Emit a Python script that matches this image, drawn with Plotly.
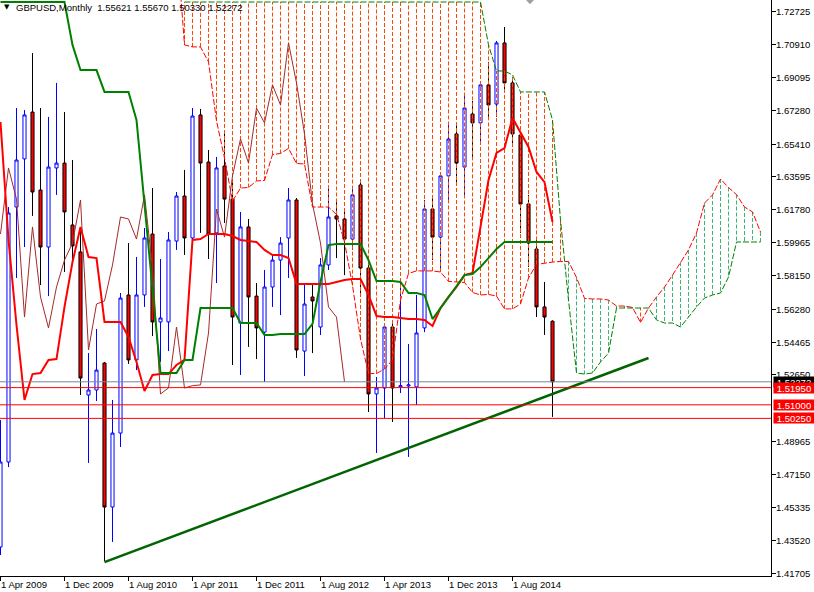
import plotly.graph_objects as go

FONT = "Liberation Sans"

# ---------------- data (month index 0 = Apr 2009) ----------------
opens = [1.4314, 1.4784, 1.6193, 1.6459, 1.6718, 1.6287, 1.5972, 1.6409, 1.6436, 1.6094,
         1.5945, 1.5154, 1.5182, 1.5331, 1.4535, 1.4944, 1.5707, 1.5348, 1.5707, 1.6044,
         1.5558, 1.5558, 1.6005, 1.6254, 1.6022, 1.6702, 1.6442, 1.6050, 1.6420, 1.6237,
         1.5552, 1.6083, 1.5701, 1.5502, 1.5751, 1.5900, 1.6022, 1.6232, 1.5397, 1.5696,
         1.5530, 1.5873, 1.6144, 1.6127, 1.6016, 1.6315, 1.5856, 1.5160, 1.5193, 1.5530,
         1.5199, 1.5204, 1.5199, 1.5525, 1.6182, 1.6027, 1.6365, 1.6597, 1.6414, 1.6707,
         1.6658, 1.6868, 1.6762, 1.7100, 1.6879, 1.6591, 1.6210, 1.5961, 1.5641, 1.55621]
highs = [1.5016, 1.6193, 1.6740, 1.6729, 1.7044, 1.6740, 1.6691, 1.6879, 1.6718, 1.6453,
         1.6066, 1.5386, 1.5519, 1.5337, 1.5127, 1.5718, 1.5994, 1.5917, 1.6077, 1.6298,
         1.5906, 1.6055, 1.6276, 1.6398, 1.6740, 1.6735, 1.6508, 1.6470, 1.6613, 1.6342,
         1.6166, 1.6127, 1.5773, 1.5845, 1.5928, 1.6027, 1.6298, 1.6243, 1.5762, 1.5762,
         1.5911, 1.6309, 1.6221, 1.6166, 1.6298, 1.6342, 1.5900, 1.5254, 1.5552, 1.5558,
         1.5773, 1.5436, 1.5707, 1.6232, 1.6249, 1.6381, 1.6646, 1.6652, 1.6812, 1.6779,
         1.6879, 1.6995, 1.7111, 1.7188, 1.6912, 1.6608, 1.6260, 1.6022, 1.5779, 1.55670]
lows = [1.4270, 1.4756, 1.5801, 1.5972, 1.6144, 1.5762, 1.5701, 1.6260, 1.5834, 1.5884,
        1.5154, 1.4779, 1.5121, 1.4237, 1.4342, 1.4867, 1.5326, 1.5292, 1.5641, 1.5480,
        1.5337, 1.5397, 1.5956, 1.5928, 1.6000, 1.6050, 1.5906, 1.5773, 1.6105, 1.5320,
        1.5265, 1.5420, 1.5353, 1.5226, 1.5641, 1.5596, 1.5801, 1.5359, 1.5259, 1.5386,
        1.5486, 1.5845, 1.5911, 1.5817, 1.5956, 1.5696, 1.5060, 1.4834, 1.5027, 1.5005,
        1.5165, 1.4812, 1.5099, 1.5502, 1.5900, 1.5851, 1.6215, 1.6309, 1.6243, 1.6464,
        1.6547, 1.6691, 1.6691, 1.6840, 1.6525, 1.6050, 1.5862, 1.5585, 1.5486, 1.50330]
closes = [1.4784, 1.6160, 1.6453, 1.6702, 1.6276, 1.5972, 1.6414, 1.6436, 1.6166, 1.5978,
          1.5248, 1.5182, 1.5292, 1.4535, 1.4944, 1.5690, 1.5348, 1.5707, 1.6022, 1.5558,
          1.5580, 1.6011, 1.6254, 1.6022, 1.6696, 1.6436, 1.6044, 1.6409, 1.6237, 1.5585,
          1.6083, 1.5696, 1.5525, 1.5751, 1.5900, 1.5994, 1.6232, 1.5403, 1.5657, 1.5674,
          1.5873, 1.6138, 1.6127, 1.6016, 1.6260, 1.5856, 1.5160, 1.5193, 1.5530, 1.5193,
          1.5206, 1.5210, 1.5497, 1.6182, 1.6027, 1.6365, 1.6569, 1.6436, 1.6740, 1.6658,
          1.6868, 1.6757, 1.7100, 1.6879, 1.6597, 1.6210, 1.5994, 1.5641, 1.5585, 1.52272]

tenkan = [1.6663, 1.6011, 1.5541, 1.5127, 1.5270, 1.5276, 1.5348, 1.5353, 1.5641, 1.5889,
          1.6083, 1.5917, 1.5911, 1.5558, 1.5558, 1.5558, 1.5475, 1.5337, 1.5176, 1.5265,
          1.5270, 1.5270, 1.5320, 1.5348, 1.6011, 1.6016, 1.6044, 1.6044, 1.6044, 1.6033,
          1.6011, 1.6005, 1.6000, 1.5956, 1.5928, 1.5928, 1.5911, 1.5768, 1.5768, 1.5768,
          1.5768, 1.5768, 1.5779, 1.5790, 1.5795, 1.5795, 1.5707, 1.5591, 1.5585, 1.5585,
          1.5580, 1.5574, 1.5574, 1.5569, 1.5536, 1.5635, 1.5696, 1.5751, 1.5817, 1.5829,
          1.6083, 1.6342, 1.6492, 1.6519, 1.6685, 1.6602, 1.6525, 1.6387, 1.6331, 1.6110]
kijun = [1.7326, 1.7326, 1.7326, 1.7326, 1.7326, 1.7326, 1.7326, 1.7326, 1.7326, 1.7089,
         1.6950, 1.6950, 1.6950, 1.6829, 1.6829, 1.6829, 1.6829, 1.6674, 1.6204, 1.5724,
         1.5276, 1.5276, 1.5276, 1.5348, 1.5348, 1.5635, 1.5635, 1.5635, 1.5635, 1.5635,
         1.5552, 1.5552, 1.5552, 1.5486, 1.5486, 1.5491, 1.5491, 1.5491, 1.5491, 1.5547,
         1.5779, 1.5983, 1.5989, 1.5989, 1.5989, 1.5989, 1.5900, 1.5784, 1.5784, 1.5784,
         1.5779, 1.5718, 1.5718, 1.5707, 1.5574, 1.5635, 1.5696, 1.5751, 1.5817, 1.5823,
         1.5862, 1.5911, 1.5961, 1.6000, 1.6000, 1.6000, 1.6000, 1.6000, 1.6000, 1.6000]

span_a_start = 22
span_a = [1.7669, 1.7089, 1.7078, 1.7078, 1.6995, 1.6669, 1.6464, 1.6226, 1.6298, 1.6301,
          1.6337, 1.6340, 1.6483, 1.6489, 1.6517, 1.6434, 1.6431, 1.6193, 1.6193, 1.6193,
          1.6152, 1.6000, 1.5759, 1.5464, 1.5273, 1.5273, 1.5298, 1.5348, 1.5679, 1.5826,
          1.5840, 1.5840, 1.5840, 1.5834, 1.5782, 1.5779, 1.5776, 1.5721, 1.5707, 1.5710,
          1.5701, 1.5630, 1.5630, 1.5657, 1.5801, 1.5876, 1.5884, 1.5889, 1.5892, 1.5892,
          1.5804, 1.5688, 1.5685, 1.5685, 1.5679, 1.5646, 1.5646, 1.5638, 1.5555, 1.5635,
          1.5696, 1.5751, 1.5817, 1.5889, 1.5956, 1.6050, 1.6215, 1.6260, 1.6348, 1.6301,
          1.6262, 1.6193, 1.6166, 1.6055]
span_b_start = 23
span_b = [1.7326, 1.7326, 1.7326, 1.7326, 1.7326, 1.7326, 1.7326, 1.7326, 1.7326, 1.7326,
          1.7326, 1.7326, 1.7326, 1.7326, 1.7326, 1.7326, 1.7326, 1.7326, 1.7326, 1.7326,
          1.7326, 1.7326, 1.7326, 1.7326, 1.7326, 1.7326, 1.7326, 1.7326, 1.7326, 1.7326,
          1.7326, 1.7326, 1.7326, 1.7326, 1.7326, 1.7326, 1.7326, 1.7326, 1.7089, 1.6945,
          1.6945, 1.6923, 1.6829, 1.6829, 1.6829, 1.6829, 1.6674, 1.6121, 1.5679, 1.5276,
          1.5270, 1.5276, 1.5337, 1.5386, 1.5635, 1.5635, 1.5635, 1.5635, 1.5635, 1.5569,
          1.5552, 1.5552, 1.5530, 1.5585, 1.5641, 1.5690, 1.5707, 1.5718, 1.5806, 1.6000,
          1.6000, 1.6000, 1.6000]
chikou_shift = 26

trend_x = [13, 81]
trend_y = [1.4231, 1.5359]

bid_price = 1.52272
level_prices = [1.51950, 1.51000, 1.50250]
level_labels = ["1.51950", "1.51000", "1.50250"]

ytick_vals = [1.72725, 1.70910, 1.69095, 1.67280, 1.65410, 1.63595, 1.61780, 1.59965, 1.58150,
              1.56280, 1.54465, 1.52650, 1.48965, 1.47150, 1.45335, 1.43520, 1.41705]
ytick_text = ["1.72725", "1.70910", "1.69095", "1.67280", "1.65410", "1.63595", "1.61780",
              "1.59965", "1.58150", "1.56280", "1.54465", "1.52650", "1.48965", "1.47150",
              "1.45335", "1.43520", "1.41705"]
xtick_idx = [0, 8, 16, 24, 32, 40, 48, 56, 64]
xtick_text = ["1 Apr 2009", "1 Dec 2009", "1 Aug 2010", "1 Apr 2011", "1 Dec 2011",
              "1 Aug 2012", "1 Apr 2013", "1 Dec 2013", "1 Aug 2014"]
title_text = "GBPUSD,Monthly\u00a0\u00a01.55621 1.55670 1.50330 1.52272"

# ---------------- figure ----------------
idx = list(range(len(closes)))
a_idx = list(range(span_a_start, span_a_start + len(span_a)))
b_idx = list(range(span_b_start, span_b_start + len(span_b)))

fig = go.Figure()

fig.add_trace(go.Candlestick(
    x=idx, open=opens, high=highs, low=lows, close=closes,
    increasing=dict(line=dict(color="#0000FF", width=1), fillcolor="#FFFFFF"),
    decreasing=dict(line=dict(color="#000000", width=1), fillcolor="#FF0000"),
    whiskerwidth=0, hoverinfo="skip", showlegend=False))

# kumo hatch
ox, oy, gx, gy = [], [], [], []
for k, i in enumerate(b_idx):
    a = span_a[i - span_a_start]
    b = span_b[k]
    if b >= a:
        ox += [i, i, None]; oy += [a, b, None]
    else:
        gx += [i, i, None]; gy += [a, b, None]
fig.add_trace(go.Scatter(x=ox, y=oy, mode="lines", hoverinfo="skip",
                         line=dict(color="#FF4500", width=1, dash="4px,2px")))
fig.add_trace(go.Scatter(x=gx, y=gy, mode="lines", hoverinfo="skip",
                         line=dict(color="#3CB371", width=1, dash="4px,2px")))
fig.add_trace(go.Scatter(x=a_idx, y=span_a, mode="lines", hoverinfo="skip",
                         line=dict(color="#FF0000", width=1, dash="6px,2px")))
fig.add_trace(go.Scatter(x=b_idx, y=span_b, mode="lines", hoverinfo="skip",
                         line=dict(color="#008000", width=1, dash="6px,2px")))
# chikou (closes plotted 26 bars back)
fig.add_trace(go.Scatter(x=idx[:len(idx) - chikou_shift], y=closes[chikou_shift:], mode="lines",
                         hoverinfo="skip", line=dict(color="#A52A2A", width=1)))
fig.add_trace(go.Scatter(x=idx, y=tenkan, mode="lines", hoverinfo="skip",
                         line=dict(color="#FF0000", width=2)))
fig.add_trace(go.Scatter(x=idx, y=kijun, mode="lines", hoverinfo="skip",
                         line=dict(color="#008000", width=2)))
fig.add_trace(go.Scatter(x=trend_x, y=trend_y, mode="lines", hoverinfo="skip",
                         line=dict(color="#006400", width=2.5)))

shapes = [dict(type="line", xref="paper", x0=0, x1=1, yref="y", y0=bid_price, y1=bid_price,
               line=dict(color="#778899", width=1), layer="above")]
for p in level_prices:
    shapes.append(dict(type="line", xref="paper", x0=0, x1=1, yref="y", y0=p, y1=p,
                       line=dict(color="#FF0000", width=1), layer="above"))
# chart-shift marker
shapes.append(dict(type="path", xref="paper", yref="paper",
                   path="M 0.6822,1 L 0.6926,1 L 0.6874,0.9925 Z",
                   fillcolor="#A0A0A0", line=dict(width=0)))

ann = []
# price scale labels (left-aligned, MT4 style)
for v, t in zip(ytick_vals, ytick_text):
    ann.append(dict(x=1, xref="paper", y=v, yref="y", text=t, showarrow=False,
                    xanchor="left", yanchor="middle", xshift=4, borderpad=0,
                    font=dict(family=FONT, size=9.5, color="#000000")))
for i, t in zip(xtick_idx, xtick_text):
    ann.append(dict(x=i, xref="x", y=0, yref="paper", text=t, showarrow=False,
                    xanchor="left", yanchor="top", xshift=-2, yshift=-1,
                    font=dict(family=FONT, size=9.5, color="#000000")))
ann.append(dict(x=1, xref="paper", y=bid_price, yref="y", text=str(bid_price),
                showarrow=False, xanchor="left", yanchor="middle", xshift=2,
                bgcolor="#000000", width=38, height=8, borderpad=1,
                font=dict(family=FONT, size=9.5, color="#FFFFFF")))
for p, t in zip(level_prices, level_labels):
    ann.append(dict(x=1, xref="paper", y=p, yref="y", text=t, showarrow=False,
                    xanchor="left", yanchor="middle", xshift=2,
                    bgcolor="#FF0000", width=38, height=8, borderpad=1,
                    font=dict(family=FONT, size=9.5, color="#FFFFFF")))
ann.append(dict(x=2 / 771, xref="paper", y=1 - 7 / 576, yref="paper", text="\u25bc",
                showarrow=False, xanchor="left", yanchor="middle",
                font=dict(family="DejaVu Sans", size=7, color="#000000")))
ann.append(dict(x=14 / 771, xref="paper", y=1 - 7.5 / 576, yref="paper", text=title_text,
                showarrow=False, xanchor="left", yanchor="middle",
                font=dict(family=FONT, size=9.5, color="#000000")))

fig.update_layout(
    width=814, height=592, margin=dict(l=0, r=43, t=0, b=16, autoexpand=False),
    paper_bgcolor="#FFFFFF", plot_bgcolor="#FFFFFF", showlegend=False,
    hovermode=False, boxgap=0.45, shapes=shapes, annotations=ann,
    xaxis=dict(range=[-0.0625, 96.31], showgrid=False, zeroline=False,
               showline=True, linecolor="#000000", linewidth=1,
               ticks="outside", ticklen=4, tickcolor="#000000",
               tickvals=xtick_idx, showticklabels=False,
               rangeslider=dict(visible=False), fixedrange=True),
    yaxis=dict(range=[1.41540, 1.73372], side="right", showgrid=False, zeroline=False,
               showline=True, linecolor="#000000", linewidth=1,
               ticks="outside", ticklen=4, tickcolor="#000000",
               tickvals=ytick_vals, showticklabels=False, fixedrange=True),
)

fig.write_html("out.html", config={"displayModeBar": False},
               post_script="document.body.style.margin='0px';document.body.style.overflow='hidden';")
